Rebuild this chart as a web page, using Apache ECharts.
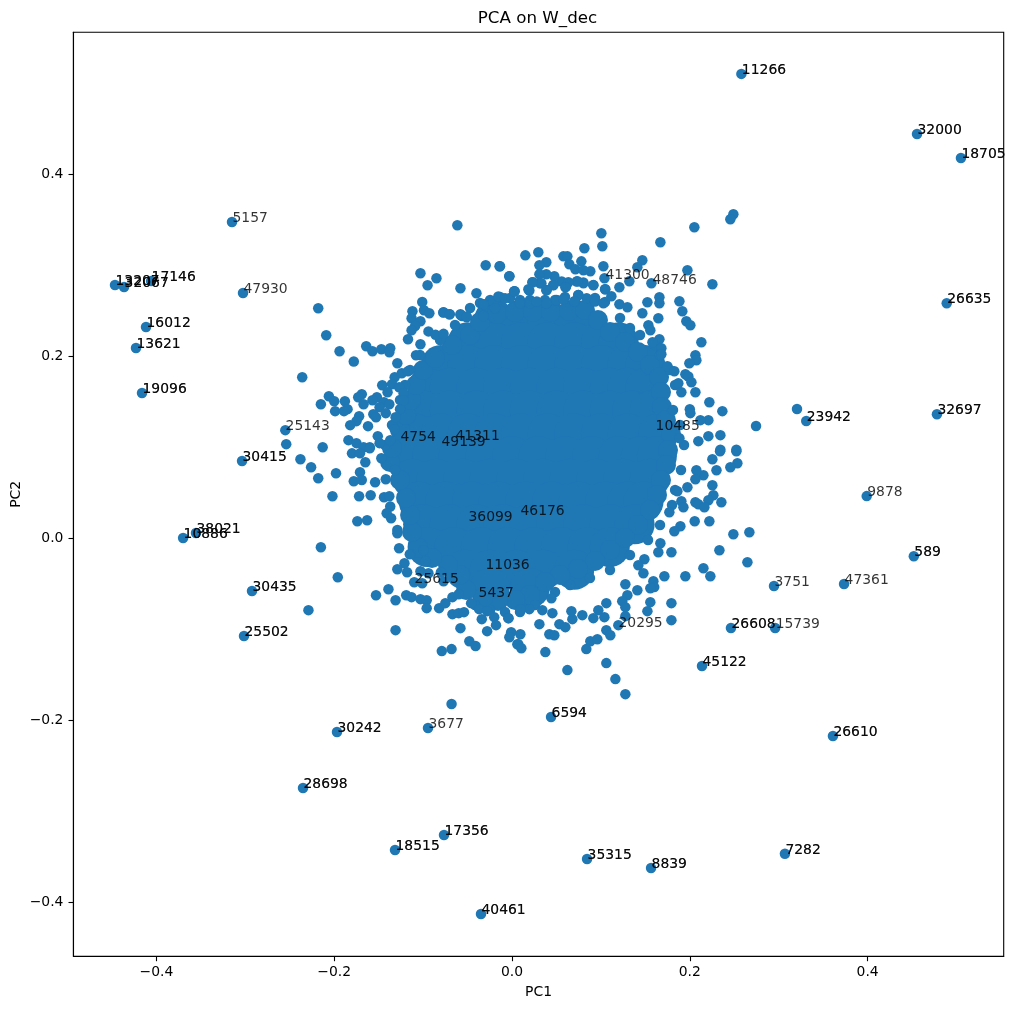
<!DOCTYPE html>
<html>
<head>
<meta charset="utf-8">
<style>html,body{margin:0;padding:0;background:#fff}#c{width:1014px;height:1009px}</style>
<script src="https://cdn.jsdelivr.net/npm/echarts@6/dist/echarts.min.js"></script>
</head>
<body>
<div id="c"></div>
<script>
const title = "PCA on W_dec";
const xTicks = [-0.4,-0.2,0,0.2,0.4];
const yTicks = [-0.4,-0.2,0,0.2,0.4];

// The dense mass of the cloud, read as overlapping patches
const corePoints = [
[-0.02,0.24],[0.01,0.24],[0.04,0.24],[0.07,0.24],
[-0.05,0.215],[-0.02,0.215],[0.01,0.215],[0.04,0.215],[0.07,0.215],[0.10,0.215],[0.12,0.215],
[-0.08,0.19],[-0.05,0.19],[-0.02,0.19],[0.01,0.19],[0.04,0.19],[0.07,0.19],[0.10,0.19],[0.13,0.19],[0.15,0.19],
[-0.095,0.165],[-0.07,0.165],[-0.04,0.165],[-0.01,0.165],[0.02,0.165],[0.05,0.165],[0.08,0.165],[0.11,0.165],[0.13,0.165],[0.15,0.165],
[-0.10,0.14],[-0.07,0.14],[-0.04,0.14],[-0.01,0.14],[0.02,0.14],[0.05,0.14],[0.08,0.14],[0.11,0.14],[0.135,0.14],[0.155,0.14],
[-0.11,0.115],[-0.08,0.115],[-0.05,0.115],[-0.02,0.115],[0.01,0.115],[0.04,0.115],[0.07,0.115],[0.10,0.115],[0.13,0.115],[0.165,0.115],
[-0.12,0.09],[-0.09,0.09],[-0.06,0.09],[-0.03,0.09],[0,0.09],[0.03,0.09],[0.06,0.09],[0.09,0.09],[0.12,0.09],[0.145,0.09],[0.163,0.09],
[-0.112,0.065],[-0.085,0.065],[-0.055,0.065],[-0.025,0.065],[0.005,0.065],[0.035,0.065],[0.065,0.065],[0.095,0.065],[0.125,0.065],[0.155,0.065],
[-0.105,0.04],[-0.075,0.04],[-0.045,0.04],[-0.015,0.04],[0.015,0.04],[0.045,0.04],[0.075,0.04],[0.105,0.04],[0.13,0.04],[0.148,0.04],
[-0.10,0.015],[-0.07,0.015],[-0.04,0.015],[-0.01,0.015],[0.02,0.015],[0.05,0.015],[0.08,0.015],[0.11,0.015],[0.138,0.015],
[-0.095,-0.01],[-0.065,-0.01],[-0.035,-0.01],[-0.005,-0.01],[0.025,-0.01],[0.055,-0.01],[0.085,-0.01],[0.11,-0.01],
[-0.053,-0.035],[-0.025,-0.035],[0.005,-0.035],[0.035,-0.035],[0.07,-0.035],
[-0.025,-0.055],[0.02,-0.055]
];

// The edge of the solid mass
const rimPoints = [
[-0.0472,0.2231],[-0.036,0.2374],[-0.0169,0.2462],[0.0034,0.2484],[0.0236,0.2484],[0.0439,0.2484],[0.0641,0.2495],[0.0821,0.2505],[0.0967,0.2396],[0.1102,0.2264],
[0.1271,0.2154],[0.1417,0.2044],[0.1552,0.1901],[0.1654,0.1769],[0.1676,0.1604],[0.1687,0.144],[0.1732,0.1297],[0.1789,0.1143],[0.1755,0.0967],[0.1732,0.0802],
[0.1676,0.0637],[0.1631,0.0473],[0.1552,0.0308],[0.1417,0.0143],[0.1271,0],[0.1102,-0.0132],[0.0934,-0.0253],[0.0742,-0.0341],[0.054,-0.0407],[0.0371,-0.0484],
[0.0202,-0.0626],[0.0034,-0.0681],[-0.0157,-0.0692],[-0.0326,-0.0659],[-0.0517,-0.0571],[-0.0585,-0.0407],[-0.072,-0.0297],[-0.09,-0.022],[-0.1057,-0.011],[-0.1125,0.0066],
[-0.1147,0.0253],[-0.1192,0.044],[-0.126,0.0637],[-0.1372,0.0835],[-0.135,0.0989],[-0.126,0.1187],[-0.1192,0.1352],[-0.1136,0.1516],[-0.108,0.1681],[-0.1001,0.1846],
[-0.0866,0.1978],[-0.0675,0.2121]
];

const edgeDots = [
[-0.0135,0.2648],[-0.0022,0.2637],[0.009,0.2615],[0.0202,0.2615],[0.0371,0.2615],[0.0484,0.2615],[0.0596,0.2648],[0.0934,0.2637],[0.1046,0.2593],[-0.0247,0.2615],
[-0.036,0.2582],[-0.0472,0.2527],[-0.0562,0.244],[0.1215,0.2418],[0.1327,0.2308],[0.144,0.2231],[0.1609,0.2121],[0.1665,0.2011],[0.1777,0.1846],[0.1834,0.1681],
[0.1811,0.1407],[0.189,0.1242],[0.1935,0.1022],[0.1901,0.0747],[0.1834,0.0527],[0.18,0.0363],[0.1665,0.0143],[0.153,-0.0022],[0.1327,-0.0187],[0.1102,-0.0352],
[0.0877,-0.044],[0.0652,-0.0516],[0.0484,-0.0593],[0.0259,-0.0736],[0.009,-0.0813],[-0.0079,-0.0813],[-0.0247,-0.0791],[-0.0416,-0.0736],[-0.1316,0.0747],[-0.1429,0.1022],
[-0.135,0.1242],[-0.126,0.1516],[-0.1204,0.1681],[-0.1147,0.1846],[-0.1035,0.2011],[-0.081,0.2176],[-0.0641,0.2341]
];

const topBandDots = [
[-0.021,0.2598],[-0.0154,0.2653],[-0.0079,0.2634],[0.0023,0.2708],[0.009,0.258],[0.0203,0.258],[0.0278,0.2598],[0.039,0.258],[0.0503,0.2616],[0.0578,0.2624],
[0.0709,0.2598],[0.0746,0.2671],[0.084,0.2634],[0.0934,0.2598],[0.1028,0.258],[-0.0323,0.2569],[-0.0578,0.2451],[-0.051,0.2426],[-0.0773,0.2477],[-0.0705,0.2459],
[-0.0191,0.2525],[-0.0323,0.2441],[0.0233,0.281],[0.0315,0.2799],[0.0195,0.2719],[0.039,0.2726],[0.0465,0.2781],[0.0559,0.2818],[0.0608,0.2763],[0.0728,0.2818],
[0.0803,0.2807],[0.0915,0.2781],[0.1046,0.2733]
];

const upperLeftDots = [
[-0.0615,0.3436],[-0.218,0.2524],[-0.209,0.2228],[-0.194,0.2052],[-0.178,0.194],[-0.236,0.1767],[-0.0296,0.2997],[-0.014,0.2986],[-0.003,0.2876],[-0.103,0.2909],
[-0.085,0.2854],[-0.095,0.2777],[-0.058,0.2744],[-0.04,0.2689],[0.003,0.2711],[-0.101,0.2594],[-0.032,0.2568],[-0.112,0.2492],[-0.099,0.2503],[-0.093,0.247],
[-0.077,0.2481],[-0.07,0.2459],[-0.058,0.2459],[-0.051,0.2433],[-0.113,0.2415],[-0.103,0.2382],[-0.032,0.244],[-0.109,0.233],[-0.113,0.2283],[-0.117,0.2184],
[-0.094,0.227],[-0.086,0.2232],[-0.077,0.2243],[-0.103,0.2129],[-0.164,0.2107],[-0.157,0.2052],[-0.147,0.2074],[-0.137,0.2085],[-0.138,0.2041],[-0.129,0.192],
[-0.108,0.2008],[-0.132,0.1767],[-0.124,0.1811],[-0.117,0.1833],[-0.146,0.1679],[-0.135,0.169],[-0.127,0.1657],[-0.14,0.1602],[-0.206,0.1558],[-0.2,0.1503],
[-0.215,0.147],[-0.188,0.1503],[-0.169,0.158],[-0.173,0.1547],[-0.152,0.1547],[-0.157,0.1514],[-0.167,0.147],[-0.199,0.1394],[-0.185,0.1416],[-0.189,0.1394],
[-0.144,0.1492],[-0.138,0.147],[-0.149,0.1437],[-0.142,0.1372],[-0.156,0.136],[-0.153,0.1327],[-0.172,0.1338],[-0.175,0.1284],[-0.182,0.124],[-0.162,0.1229],
[-0.126,0.1416],[-0.122,0.1591],[-0.122,0.1514],[-0.132,0.1196],[-0.131,0.1327],[-0.255,0.1185],[-0.254,0.1031],[-0.213,0.0998],[-0.184,0.1075],[-0.175,0.1042],
[-0.151,0.1119],[-0.149,0.1042],[-0.137,0.1075],[-0.16,0.0998],[-0.167,0.0998]
];

const lowerLeftDots = [
[-0.238,0.0865],[-0.226,0.0777],[-0.218,0.0656],[-0.198,0.0711],[-0.171,0.0722],[-0.178,0.0623],[-0.169,0.0638],[-0.154,0.0612],[-0.202,0.0458],[-0.172,0.0458],
[-0.159,0.0469],[-0.144,0.0447],[-0.138,0.0458],[-0.142,0.0645],[-0.18,0.093],[-0.165,0.0832],[-0.171,0.093],[-0.16,0.0985],[-0.147,0.0876],[-0.137,0.0345],
[-0.141,0.0272],[-0.136,0.0217],[-0.174,0.0184],[-0.163,0.0195],[-0.129,0.0089],[-0.129,0.0052],[-0.215,-0.0102],[-0.127,-0.0113],[-0.115,-0.0178],[-0.0997,-0.0135],
[-0.0975,-0.0255],[-0.121,-0.0277],[-0.129,-0.0343],[-0.118,-0.0376],[-0.103,-0.0365],[-0.094,-0.0387],[-0.11,-0.0486],[-0.101,-0.0497],[-0.08,-0.0376],[-0.077,-0.0475],
[-0.196,-0.0431],[-0.139,-0.0563],[-0.153,-0.0629],[-0.131,-0.0684],[-0.119,-0.0629],[-0.113,-0.065],[-0.103,-0.0672],[-0.096,-0.0684],[-0.096,-0.0771],[-0.229,-0.0793],
[-0.082,-0.0771],[-0.075,-0.0716],[-0.067,-0.065],[-0.06,-0.0618],[-0.046,-0.0716],[-0.067,-0.0837],[-0.06,-0.0826],[-0.054,-0.0815],[-0.037,-0.0782],[-0.034,-0.0892],
[-0.028,-0.0804],[-0.02,-0.087],[-0.004,-0.0881],[-0.018,-0.0958],[-0.058,-0.0991],[-0.028,-0.1024],[-0.131,-0.1013],[-0.001,-0.1035],[-0.003,-0.109],[-0.048,-0.1134],
[-0.041,-0.1188],[-0.079,-0.1243],[-0.068,-0.1221],[0.006,-0.1167],[-0.068,-0.1825]
];

const lowerRightDots = [
[0.234,0.0953],[0.2524,0.0953],[0.2254,0.0865],[0.2535,0.0821],[0.2456,0.0777],[0.23,0.0744],[0.2153,0.0689],[0.2074,0.0744],[0.2063,0.0645],[0.2254,0.0579],
[0.1973,0.0557],[0.186,0.0513],[0.2265,0.0469],[0.2355,0.0393],[0.2209,0.0415],[0.2063,0.0393],[0.2096,0.0371],[0.2164,0.0338],[0.1905,0.0404],[0.1928,0.0338],
[0.177,0.0283],[0.2055,0.0184],[0.222,0.0184],[0.1894,0.0129],[0.1826,0.0074],[0.249,0.0041],[0.267,0.0063],[0.1669,-0.0058],[0.1646,-0.0157],[0.1793,-0.0157],
[0.2333,-0.0135],[0.2648,-0.0266],[0.2153,-0.0332],[0.2231,-0.042],[0.195,-0.042],[0.1714,-0.042],[0.1489,-0.0233],[0.1421,-0.0299],[0.1478,-0.0387],[0.159,-0.0475],
[0.16,-0.054],[0.1556,-0.0552],[0.141,-0.0574],[0.1275,-0.0508],[0.1298,-0.0629],[0.124,-0.0694],[0.1275,-0.076],[0.1556,-0.0705],[0.1793,-0.0716],[0.1793,-0.0903],
[0.1523,-0.0804],[0.1275,-0.0859],[0.1196,-0.0958],[0.1061,-0.0716],[0.0971,-0.0793],[0.1039,-0.087],[0.0915,-0.0881],[0.0791,-0.0848],[0.0679,-0.0892],[0.0668,-0.0804],
[0.0454,-0.0826],[0.0443,-0.0662],[0.0341,-0.0793],[0.0195,-0.0782],[0.0094,-0.0782],[-0.0041,-0.0881],[0.0308,-0.0947],[0.0094,-0.1057],[0.0071,-0.1167],[0.0105,-0.1211],
[0.0375,-0.1254],[0.042,-0.1057],[0.0476,-0.1068],[0.0533,-0.0947],[0.06,-0.098],[0.0623,-0.1452],[0.0836,-0.1221],[0.0881,-0.1134],[0.096,-0.1112],[0.1061,-0.1013],
[0.1106,-0.1068],[0.1061,-0.1375],[0.1163,-0.1551],[0.1275,-0.1716]
];

const upperRightDots = [
[0.1005,0.3348],[0.1016,0.3205],[0.0814,0.3183],[0.015,0.3106],[0.0296,0.3139],[0.0578,0.3095],[0.0623,0.3095],[0.0386,0.303],[0.0308,0.2997],[0.0645,0.3008],
[0.078,0.304],[0.0713,0.2953],[0.1028,0.2986],[0.1466,0.3052],[0.141,0.2975],[0.1669,0.3249],[0.2051,0.3414],[0.249,0.3557],[0.2456,0.3502],[0.1973,0.2942],
[0.2254,0.2788],[0.1568,0.2799],[0.132,0.2821],[0.1208,0.2755],[0.104,0.2854],[0.105,0.2733],[0.0881,0.2931],[0.0803,0.2942],[0.0803,0.2799],[0.0915,0.2777],
[0.0735,0.2821],[0.0634,0.281],[0.06,0.2755],[0.0476,0.2876],[0.0386,0.2898],[0.0308,0.2898],[0.0465,0.2777],[0.033,0.2799],[0.0229,0.281],[0.0184,0.2733],
[0.0026,0.2711],[-0.003,0.2876],[0.0386,0.2722],[-0.0135,0.2986],[0.0746,0.267],[0.0499,0.2612],[0.0578,0.2623],[0.0386,0.2579],[0.1118,0.2656],[0.0701,0.2601],
[0.1208,0.2568],[0.1298,0.2535],[0.1523,0.259],[0.1658,0.2645],[0.1658,0.2579],[0.1883,0.2601],[0.1916,0.2492],[0.1466,0.247],[0.1646,0.2415],[0.1961,0.2382],
[0.2006,0.2338],[0.1534,0.2338],[0.1556,0.2283],[0.213,0.2151],[0.1658,0.2184],[0.158,0.2151],[0.2063,0.2008],[0.2074,0.1953],[0.1995,0.192],[0.168,0.2085],
[0.168,0.2019],[0.1748,0.1888],[0.1826,0.1833],[0.195,0.18],[0.1984,0.1774],[0.2018,0.1712],[0.1871,0.1701],[0.2063,0.1602],[0.1905,0.1602],[0.222,0.1492],
[0.2366,0.1394],[0.2,0.1416],[0.2006,0.1372],[0.2209,0.1295],[0.2119,0.1295],[0.2209,0.1119],[0.2344,0.113],[0.2096,0.1064],[0.2344,0.0969],[0.2524,0.0969],[0.1883,0.1097]
];

const farDots = [
[0.258,0.51],[0.4556,0.444],[0.505,0.4176],[0.489,0.258],[0.478,0.136],[0.331,0.1286],[0.3206,0.1418],[0.2745,0.123],[0.399,0.046],[0.452,-0.02],
[0.3735,-0.0505],[0.2947,-0.0527],[0.296,-0.099],[0.2463,-0.099],[0.2137,-0.1407],[0.361,-0.2176],[0.307,-0.347],[0.1564,-0.3626],[0.0844,-0.3527],[0.0439,-0.1967],
[-0.0349,-0.4132],[-0.0765,-0.3264],[-0.1316,-0.3429],[-0.0945,-0.2088],[-0.1969,-0.2132],[-0.2351,-0.2747],[-0.3015,-0.1077],[-0.2925,-0.0582],[-0.37,0],[-0.3555,0.0055],
[-0.3037,0.0846],[-0.4162,0.1593],[-0.423,0.2088],[-0.4117,0.2319],[-0.3026,0.2692],[-0.315,0.3473],[-0.406,0.2824],[-0.4466,0.278],[-0.4364,0.2758]
];

// id, x, y of every annotated point
const annotated = [
["11266",0.258,0.51],["32000",0.4556,0.444],["18705",0.505,0.4176],["26635",0.489,0.258],["32697",0.478,0.136],["23942",0.331,0.1286],["9878",0.399,0.046],["589",0.452,-0.02],
["47361",0.3735,-0.0505],["3751",0.2947,-0.0527],["15739",0.296,-0.099],["26608",0.2463,-0.099],["45122",0.2137,-0.1407],["20295",0.1192,-0.0978],["26610",0.361,-0.2176],["7282",0.307,-0.347],
["8839",0.1564,-0.3626],["35315",0.0844,-0.3527],["6594",0.0439,-0.1967],["40461",-0.0349,-0.4132],["17356",-0.0765,-0.3264],["18515",-0.1316,-0.3429],["3677",-0.0945,-0.2088],["30242",-0.1969,-0.2132],
["28698",-0.2351,-0.2747],["25502",-0.3015,-0.1077],["30435",-0.2925,-0.0582],["10886",-0.37,0],["38021",-0.3555,0.0055],["30415",-0.3037,0.0846],["25143",-0.2553,0.1187],["19096",-0.4162,0.1593],
["13621",-0.423,0.2088],["16012",-0.4117,0.2319],["47930",-0.3026,0.2692],["5157",-0.315,0.3473],["17146",-0.406,0.2824],["13207",-0.4466,0.278],["32067",-0.4364,0.2758],
["4754",-0.126,0.1066],["41311",-0.0641,0.1077],["49139",-0.0799,0.1011],["36099",-0.0495,0.0187],["46176",0.009,0.0253],["11036",-0.0304,-0.0341],["25615",-0.1102,-0.0495],["5437",-0.0382,-0.0648],
["10485",0.1609,0.1187],["41300",0.1046,0.2846],["48746",0.1575,0.2791]
];
// ids annotated twice in the source, which is why they read darker
const annotatedTwice = ["11266","32000","18705","26635","32697","23942","589","26608","45122","26610","7282","8839","35315","6594","40461","17356","18515","30242","28698","25502","30435","10886","38021","30415","19096","13621","16012","17146","13207","32067"];

const blue = "#1f77b4";
const font = "DejaVu Sans";
const fmt = v => { const s = Math.abs(v).toFixed(1); return (v < -1e-9 ? "\u2212" : "") + s; };
const dots = [].concat(edgeDots, topBandDots, upperLeftDots, lowerLeftDots, lowerRightDots, upperRightDots, farDots);
const labelData = annotated.concat(annotated.filter(a => annotatedTwice.includes(a[0])))
  .map(a => ({ value: [a[1], a[2]], name: a[0] }));

const axisCommon = {
  type: "value", scale: false,
  splitLine: { show: false },
  axisLine: { show: true, onZero: false, lineStyle: { color: "#000", width: 1.1 } },
  nameLocation: "middle",
  nameMoveOverlap: false,
  nameTextStyle: { fontFamily: font, fontSize: 13.9, color: "#000" }
};
const chart = echarts.init(document.getElementById("c"), null, { renderer: "canvas" });
chart.setOption({
  animation: false,
  backgroundColor: "#fff",
  title: { text: title, left: 532.5, top: 5, textAlign: "center",
    textStyle: { fontFamily: font, fontSize: 16.7, fontWeight: "normal", color: "#000" } },
  grid: { left: 73.4, right: 10.3, top: 32.3, bottom: 52.7, outerBoundsMode: "none", show: true, borderColor: "#000", borderWidth: 1.1, backgroundColor: "#fff" },
  xAxis: Object.assign({}, axisCommon, {
    min: -0.4934, max: 0.5531, name: "PC1", nameGap: 29,
    axisTick: { show: true, length: 4.9, lineStyle: { color: "#000", width: 1.1 }, customValues: xTicks },
    axisLabel: { fontFamily: font, fontSize: 13.9, color: "#000", margin: 9, customValues: xTicks, formatter: fmt }
  }),
  yAxis: Object.assign({}, axisCommon, {
    min: -0.4597, max: 0.5557, name: "PC2", nameGap: 50,
    axisTick: { show: true, length: 4.9, lineStyle: { color: "#000", width: 1.1 }, customValues: yTicks },
    axisLabel: { fontFamily: font, fontSize: 13.9, color: "#000", margin: 10, customValues: yTicks, formatter: fmt }
  }),
  series: [
    { type: "scatter", data: corePoints, symbolSize: 40, itemStyle: { color: blue, opacity: 1 }, silent: true, z: 2 },
    { type: "scatter", data: rimPoints, symbolSize: 20, itemStyle: { color: blue, opacity: 1 }, silent: true, z: 2 },
    { type: "scatter", data: dots, symbolSize: 10.5, itemStyle: { color: blue, opacity: 1 }, silent: true, z: 2 },
    { type: "scatter", data: labelData, symbolSize: 1, itemStyle: { color: "transparent" }, silent: true, z: 5,
      label: { show: true, position: [1, 4], align: "left", verticalAlign: "bottom",
        formatter: p => p.name, fontFamily: font, fontSize: 13.9, color: "#000" } }
  ]
});
</script>
</body>
</html>
